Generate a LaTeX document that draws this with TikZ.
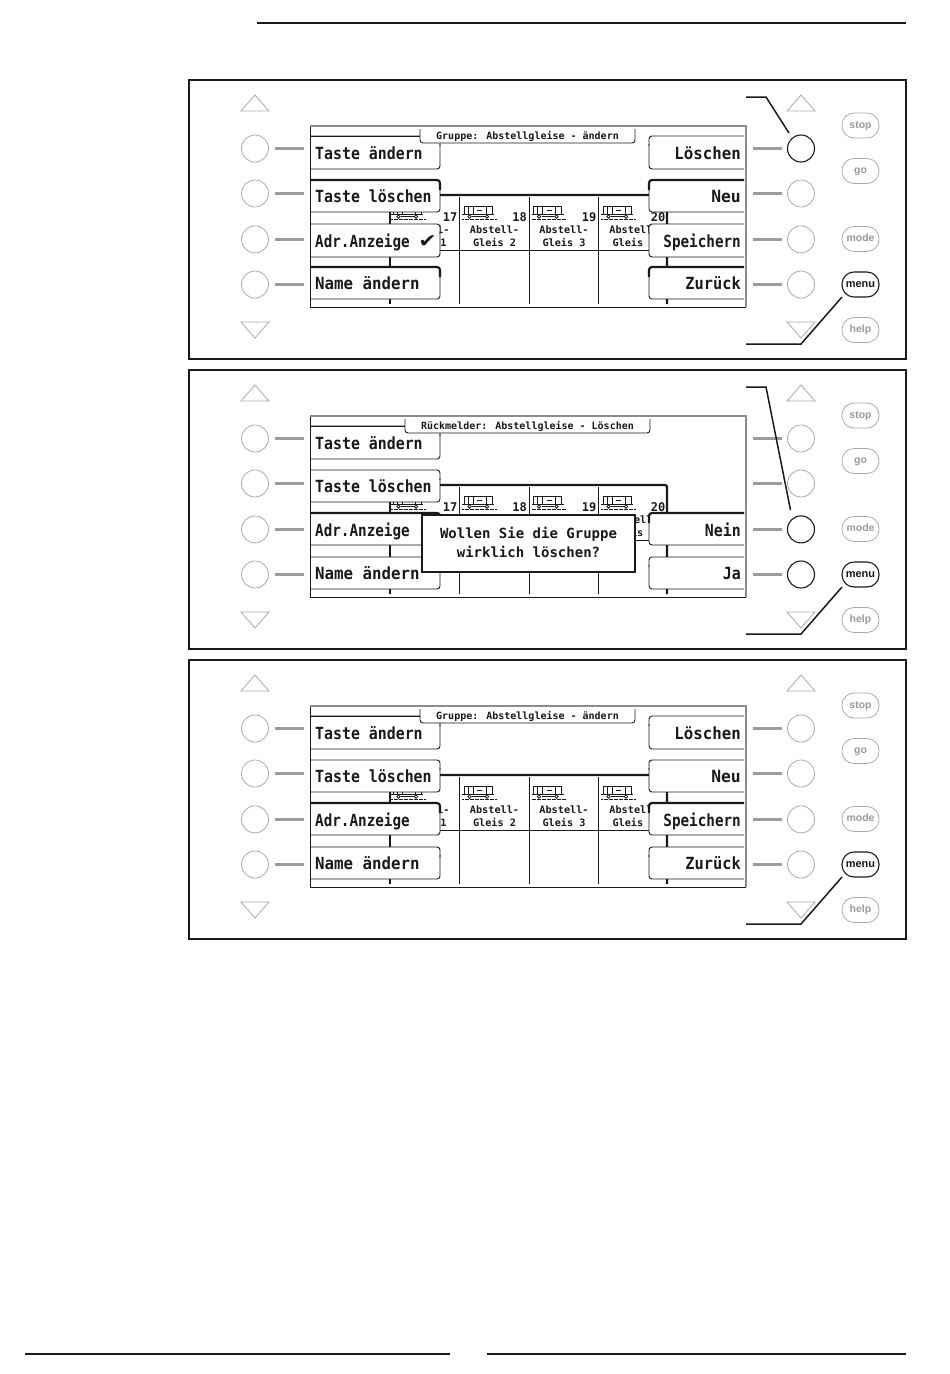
\documentclass[tikz,border=0pt]{standalone}
\usepackage{fontspec}
\setmainfont{Liberation Sans}
\newfontfamily\lcdfont[Scale=1]{DejaVu Sans Mono}
\newfontfamily\symfont{DejaVu Sans}
\definecolor{ink}{HTML}{1A1A1A}
\definecolor{soft}{HTML}{ABABAB}
\definecolor{softtext}{HTML}{9A9A9A}
\definecolor{bar}{HTML}{9C9C9C}
\definecolor{edge}{HTML}{8C8C8C}
\tikzset{
  frameline/.style={draw=ink,line width=2pt},
  ctlcirc/.style={circle,draw=soft,line width=.8pt,minimum size=27pt,inner sep=0pt,fill=white},
  ctlon/.style={circle,draw=ink,line width=1.1pt,minimum size=27pt,inner sep=0pt,fill=white},
  ctlbar/.style={draw=bar,line width=2.4pt},
  ctlbaron/.style={draw=ink,line width=2.4pt},
  tri/.style={draw=soft,line width=.8pt,fill=white},
  pill/.style={rectangle,rounded corners=12pt,draw=soft,line width=.8pt,minimum width=37pt,minimum height=25pt,inner sep=0pt,text height=7.5pt,text depth=2.5pt,text=softtext,font=\fontsize{10.5}{12}\selectfont\bfseries},
  pillon/.style={pill,draw=ink,line width=1.1pt,text=ink,font=\fontsize{11}{12}\selectfont\bfseries},
  leader/.style={draw=ink,line width=1.5pt},
  btntext/.style={inner sep=0pt,text=ink,font=\fontsize{15.5}{16}\lcdfont\bfseries,xscale=.96,yscale=1.08,transform shape},
  celltext/.style={inner sep=0pt,text=ink,align=center,font=\fontsize{10.2}{13.5}\lcdfont\bfseries},
  numtext/.style={inner sep=0pt,text=ink,font=\fontsize{12}{12}\lcdfont\bfseries},
  titletext/.style={inner sep=0pt,text=ink,font=\fontsize{10}{12}\lcdfont\bfseries},
  dlgtext/.style={inner sep=0pt,text=ink,align=center,font=\fontsize{14}{19}\lcdfont\bfseries},
  checktext/.style={inner sep=0pt,text=ink,font=\fontsize{22}{22}\symfont,yscale=.85,transform shape},
  thinln/.style={draw=ink,line width=.9pt},
  thickln/.style={draw=ink,line width=2.2pt}
}
\newcommand{\hs}[2]{\scalebox{#1}[1]{#2}}
\newcommand{\lbtn}[5]{%
  \fill[white] (310,#2) -- (440,#2) -- (440,#3) -- (310,#3) -- cycle;
  \draw[ink,line width=#4,rounded corners=3pt] (311,#2) -- (440,#2) -- (440,#2+10);
  \draw[thinln,rounded corners=3pt] (440,#2+8) -- (440,#3) -- (311,#3);
  \node[btntext,anchor=base west] (#1) at (315,#3-9.5) {#5};
}
\newcommand{\rbtn}[5]{%
  \fill[white] (649,#2) -- (745,#2) -- (745,#3) -- (649,#3) -- cycle;
  \draw[ink,line width=#4,rounded corners=3pt] (744,#2) -- (649,#2) -- (649,#2+10);
  \draw[thinln,rounded corners=3pt] (649,#2+8) -- (649,#3) -- (744,#3);
  \node[btntext,anchor=base east] (#1) at (741,#3-9.5) {#5};
}
\newcommand{\wagon}[1]{%
  \begin{scope}[shift={(#1,0)}]
    \draw[ink,line width=.9pt] (2,214) -- (2,206) -- (30,206) -- (30,214);
    \draw[ink,line width=.9pt] (0,214) -- (32,214);
    \draw[ink,line width=.9pt] (6,206) -- (6,214) (11,206) -- (11,214) (24,206) -- (24,214);
    \draw[ink,line width=.9pt] (15,210) -- (20,210);
    \draw[ink,line width=.8pt] (7.5,216.6) circle (1.7) (25,216.6) circle (1.7);
    \draw[ink,line width=.9pt] (10,216) -- (22.5,216);
    \draw[ink,line width=1.3pt,dash pattern=on 2pt off .5pt] (0,219.6) -- (35,219.6);
  \end{scope}
}
% common panel: #1 prefix, #2 shift
\newcommand{\panelbase}[2]{%
  \begin{scope}[shift={(0,#2)}]
    \draw[frameline] (189,80) rectangle (906,359);
    \draw[tri] (255,95) -- (269,111) -- (241,111) -- cycle;
    \draw[tri] (255,338) -- (269,322) -- (241,322) -- cycle;
    \draw[tri] (801,95) -- (815,111) -- (787,111) -- cycle;
    \draw[tri] (801,338) -- (815,322) -- (787,322) -- cycle;
    \foreach \n/\y in {1/148.5,2/193.5,3/239.4,4/284.5}{
      \node[ctlcirc] (#1L\n) at (255,\y) {};
      \coordinate (#1La\n) at (275,\y);
      \coordinate (#1Lb\n) at (303.5,\y);
      \draw[ctlbar] (#1La\n) -- (#1Lb\n);
    }
    \node[pill] (#1stop) at (860.5,125.5) {stop};
    \node[pill] (#1go) at (860.5,171) {go};
    \node[pill] (#1mode) at (860.5,239) {mode};
    \node[pillon] (#1menu) at (860.5,284.5) {menu};
    \node[pill] (#1help) at (860.5,330) {help};
    \fill[white] (310,126) rectangle (746,307);
    \draw[thinln] (459,197) -- (459,304) (529,197) -- (529,304) (598,197) -- (598,304);
    \draw[thinln] (440,250) -- (650,250);
    \draw[thickln] (390,212) -- (390,304);
    \draw[thickln,rounded corners=2pt] (440,195) -- (667,195) -- (667,304);
    \wagon{391}\wagon{462}\wagon{531.5}\wagon{601}
    \foreach \t/\x/\l in {a/425/1,b/494.5/2,c/564/3,d/634/4}{
      \node[celltext] (#1cell\t) at (\x,236) {Abstell-\\Gleis \l};
    }
    \coordinate (#1topa) at (746,97);
    \coordinate (#1topb) at (766,97);
    \coordinate (#1bota) at (746,344);
    \coordinate (#1botb) at (801,344);
    \coordinate (#1botc) at (842,297);
    \draw[leader] (#1bota) -- (#1botb) -- (#1botc);
  \end{scope}
}
% screen border and title, drawn over the buttons
\newcommand{\screentop}[4]{%
  \draw[thinln] (310,127) -- (310,307) -- (746,307);
  \draw[draw=edge,line width=1.5pt] (310,126) -- (746,126) -- (746,307);
  \fill[white] (#2,130) rectangle (#3,143);
  \draw[thinln] (310,136) -- (#2,136);
  \draw[thinln,rounded corners=3pt] (#2,129) -- (#2,143) -- (#3,143) -- (#3,129);
  \node[titletext] (#1title) at ({(#2+#3)/2},136.8) {#4};
}
\newcommand{\rctl}[5]{%
  \begin{scope}[shift={(0,#2)}]
    \node[#3] (#1R#4) at (801,#5) {};
    \coordinate (#1Ra#4) at (753,#5);
    \coordinate (#1Rb#4) at (781.5,#5);
    \ifx#3ctlon \draw[ctlbaron] (#1Ra#4) -- (#1Rb#4);\else\draw[ctlbar] (#1Ra#4) -- (#1Rb#4);\fi
  \end{scope}
}
\begin{document}
\begin{tikzpicture}[x=1pt,y=-1pt]
\useasboundingbox (0,0) rectangle (950,1374);
\fill[white] (0,0) rectangle (950,1374);
\coordinate (ruleTa) at (257,22.5);
\coordinate (ruleTb) at (906,22.5);
\draw[frameline] (ruleTa) -- (ruleTb);
\coordinate (ruleLa) at (25,1354);
\coordinate (ruleLb) at (450,1354);
\coordinate (ruleRa) at (487,1354);
\coordinate (ruleRb) at (906,1354);
\draw[frameline] (ruleLa) -- (ruleLb);
\draw[frameline] (ruleRa) -- (ruleRb);

% ---------- panel 1
\panelbase{a}{0}
\rctl{a}{0}{ctlon}{1}{148.5}
\rctl{a}{0}{ctlcirc}{2}{193.5}
\rctl{a}{0}{ctlcirc}{3}{239.4}
\rctl{a}{0}{ctlcirc}{4}{284.5}
\coordinate (atopc) at (789,133);
\draw[leader] (atopa) -- (atopb) -- (atopc);
\begin{scope}
  \node[numtext] (an17) at (450,217) {17};
  \node[numtext] (an18) at (519.5,217) {18};
  \node[numtext] (an19) at (589,217) {19};
  \node[numtext] (an20) at (658,217) {20};
  \lbtn{al1}{136}{169}{.9pt}{Taste ändern}
  \lbtn{al2}{180}{212}{2.2pt}{Taste löschen}
  \lbtn{al3}{224}{257}{.9pt}{\hs{.96}{Adr.Anzeige}}
  \lbtn{al4}{267}{299}{2.2pt}{\hs{1.06}{Name ändern}}
  \rbtn{ar1}{136}{169}{.9pt}{\hs{1.06}{Löschen}}
  \rbtn{ar2}{180}{212}{2.2pt}{\hs{1.1}{Neu}}
  \rbtn{ar3}{224}{257}{.9pt}{\hs{.96}{Speichern}}
  \rbtn{ar4}{267}{299}{2.2pt}{\hs{1.03}{Zurück}}
  \node[checktext] (acheck) at (427.5,241.5) {✔};
  \screentop{a}{420}{635}{Gruppe: Abstellgleise - ändern}
\end{scope}

% ---------- panel 2
\panelbase{b}{290}
\rctl{b}{290}{ctlcirc}{1}{148.5}
\rctl{b}{290}{ctlcirc}{2}{193.5}
\rctl{b}{290}{ctlon}{3}{239.4}
\rctl{b}{290}{ctlon}{4}{284.5}
\coordinate (btopc) at (790.5,510);
\draw[leader] (btopa) -- (btopb) -- (btopc);
\begin{scope}[shift={(0,290)}]
  \node[numtext] (bn17) at (450,217) {17};
  \node[numtext] (bn18) at (519.5,217) {18};
  \node[numtext] (bn19) at (589,217) {19};
  \node[numtext] (bn20) at (658,217) {20};
  \lbtn{bl1}{136}{169}{.9pt}{Taste ändern}
  \lbtn{bl2}{180}{212}{.9pt}{Taste löschen}
  \lbtn{bl3}{223}{255}{2.2pt}{\raisebox{-1pt}{\hs{.96}{Adr.Anzeige}}}
  \lbtn{bl4}{267}{299}{.9pt}{\hs{1.06}{Name ändern}}
  \rbtn{br3}{223}{255}{2.2pt}{\raisebox{-1pt}{Nein}}
  \rbtn{br4}{267}{299}{.9pt}{Ja}
  \node[checktext] (bcheck) at (427.5,241.5) {✔};
  \screentop{b}{405}{650}{Rückmelder: Abstellgleise - Löschen}
  \node[draw=ink,line width=2.4pt,fill=white,minimum width=213pt,minimum height=57pt,inner sep=0pt] (bdialog) at (528.5,253.5) {};
  \node[dlgtext] (bdlgtext) at (528.5,252.5) {Wollen Sie die Gruppe\\wirklich löschen?};
\end{scope}

% ---------- panel 3
\panelbase{c}{580}
\rctl{c}{580}{ctlcirc}{1}{148.5}
\rctl{c}{580}{ctlcirc}{2}{193.5}
\rctl{c}{580}{ctlcirc}{3}{239.4}
\rctl{c}{580}{ctlcirc}{4}{284.5}
\begin{scope}[shift={(0,580)}]
  \lbtn{cl1}{136}{169}{.9pt}{Taste ändern}
  \lbtn{cl2}{180}{212}{.9pt}{Taste löschen}
  \lbtn{cl3}{223}{255}{2.2pt}{\raisebox{-1pt}{\hs{.96}{Adr.Anzeige}}}
  \lbtn{cl4}{267}{299}{.9pt}{\hs{1.06}{Name ändern}}
  \rbtn{cr1}{136}{169}{.9pt}{\hs{1.06}{Löschen}}
  \rbtn{cr2}{180}{212}{.9pt}{\hs{1.1}{Neu}}
  \rbtn{cr3}{223}{255}{2.2pt}{\raisebox{-1pt}{\hs{.96}{Speichern}}}
  \rbtn{cr4}{267}{299}{.9pt}{\hs{1.03}{Zurück}}
  \screentop{c}{420}{635}{Gruppe: Abstellgleise - ändern}
\end{scope}
\end{tikzpicture}
\end{document}
